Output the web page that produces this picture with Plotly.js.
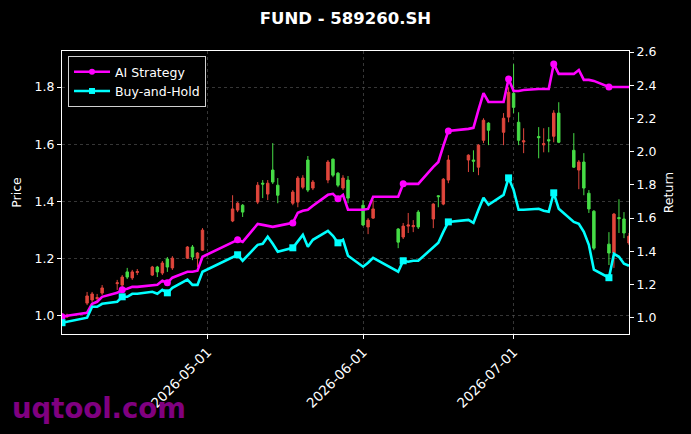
<!DOCTYPE html>
<html><head><meta charset="utf-8">
<script src="https://cdn.plot.ly/plotly-3.0.1.min.js"></script>
<style>html,body{margin:0;padding:0;background:#000;} #chart{width:691px;height:434px;}</style>
</head><body><div id="chart"></div>
<script>
const dates = [
 '2026-04-02','2026-04-03','2026-04-07','2026-04-08','2026-04-09','2026-04-10',
 '2026-04-13','2026-04-14','2026-04-15','2026-04-16','2026-04-17',
 '2026-04-20','2026-04-21','2026-04-22','2026-04-23','2026-04-24',
 '2026-04-27','2026-04-28','2026-04-29','2026-04-30',
 '2026-05-06','2026-05-07','2026-05-08',
 '2026-05-11','2026-05-12','2026-05-13','2026-05-14','2026-05-15',
 '2026-05-18','2026-05-19','2026-05-20','2026-05-21','2026-05-22',
 '2026-05-25','2026-05-26','2026-05-27','2026-05-28','2026-05-29',
 '2026-06-01','2026-06-02','2026-06-03',
 '2026-06-08','2026-06-09','2026-06-10','2026-06-11','2026-06-12',
 '2026-06-15','2026-06-16','2026-06-17','2026-06-18',
 '2026-06-22','2026-06-23','2026-06-24','2026-06-25','2026-06-26',
 '2026-06-29','2026-06-30','2026-07-01','2026-07-02','2026-07-03',
 '2026-07-06','2026-07-07','2026-07-08','2026-07-09','2026-07-10',
 '2026-07-13','2026-07-14','2026-07-15','2026-07-16','2026-07-17',
 '2026-07-20','2026-07-21','2026-07-22','2026-07-23','2026-07-24'
];
const openPrice = [0.993,0.997,1.045,1.056,1.061,1.080, 1.113,1.108,1.154,1.133,1.152, 1.143,1.171,1.150,1.199,1.168, 1.202,1.241,1.202,1.230, 1.332,1.370,1.387, 1.398,1.464,1.426,1.510,1.457, 1.394,1.398,1.450,1.545,1.447, 1.475,1.548,1.499,1.447,1.475, 1.387,1.311,1.342, 1.304,1.276,1.314,1.312,1.363, 1.339,1.420,1.391,1.475, 1.545,1.545,1.520,1.614,1.674, 1.642,1.695,1.778,1.677,1.608, 1.627,1.598,1.616,1.628,1.709, 1.579,1.510,1.538,1.429,1.366, 1.251,1.220,1.344,1.339,1.255];
const highPrice = [1.010,1.008,1.084,1.084,1.077,1.108, 1.126,1.143,1.168,1.161,1.164, 1.175,1.175,1.192,1.206,1.209, 1.244,1.248,1.223,1.307, 1.422,1.398,1.391, 1.468,1.475,1.475,1.604,1.482, 1.440,1.489,1.492,1.559,1.475, 1.545,1.550,1.503,1.492,1.489, 1.405,1.342,1.405, 1.307,1.325,1.360,1.335,1.370, 1.394,1.422,1.482,1.562, 1.565,1.579,1.600,1.691,1.677, 1.709,1.799,1.880,1.712,1.656, 1.660,1.656,1.660,1.719,1.747, 1.639,1.545,1.569,1.440,1.370, 1.293,1.360,1.408,1.363,1.290];
const lowPrice = [0.986,0.993,1.038,1.049,1.049,1.073, 1.091,1.091,1.129,1.126,1.143, 1.140,1.136,1.143,1.154,1.161, 1.199,1.195,1.171,1.227, 1.328,1.363,1.346, 1.391,1.412,1.405,1.461,1.394, 1.387,1.380,1.443,1.433,1.440, 1.464,1.485,1.450,1.440,1.394, 1.314,1.286,1.339, 1.237,1.269,1.290,1.293,1.304, 1.307,1.380,1.387,1.464, 1.503,1.503,1.492,1.604,1.597, 1.597,1.677,1.709,1.597,1.569, 1.551,1.572,1.572,1.607,1.604, 1.517,1.443,1.422,1.360,1.230, 1.178,1.168,1.290,1.272,1.248];
const closePrice = [1.000,1.002,1.070,1.077,1.064,1.098, 1.116,1.136,1.136,1.154,1.155, 1.171,1.154,1.185,1.171,1.202, 1.241,1.206,1.220,1.300, 1.374,1.394,1.363, 1.457,1.461,1.464,1.468,1.422, 1.433,1.482,1.482,1.440,1.468, 1.538,1.492,1.457,1.482,1.412, 1.318,1.335,1.374, 1.258,1.314,1.318,1.316,1.311, 1.391,1.417,1.478,1.545, 1.562,1.541,1.597,1.684,1.649, 1.691,1.782,1.729,1.614,1.612, 1.623,1.602,1.612,1.709,1.607, 1.520,1.538,1.447,1.374,1.237, 1.220,1.356,1.340,1.290,1.279];
const aiStrategy = [1.006,1.012,1.030,1.084,1.096,1.126, 1.150,1.168,1.174,1.186,1.186, 1.198,1.198,1.223,1.211,1.241, 1.277,1.277,1.283,1.367, 1.457,1.469,1.457, 1.565,1.559,1.553,1.547,1.553, 1.571,1.632,1.644,1.650,1.674, 1.740,1.746,1.716,1.740,1.650, 1.650,1.655,1.728, 1.728,1.806,1.806,1.806,1.806, 1.908,1.938,2.035,2.125, 2.137,2.143,2.251,2.353,2.299, 2.299,2.438,2.365,2.365,2.371, 2.377,2.377,2.377,2.528,2.468, 2.468,2.492,2.432,2.432,2.426, 2.389,2.389,2.389,2.389,2.389];
const buyHold = [0.970,0.976,1.000,1.066,1.066,1.084, 1.096,1.126,1.126,1.144,1.144, 1.156,1.144,1.168,1.150,1.180, 1.229,1.198,1.198,1.277, 1.361,1.379,1.343, 1.439,1.445,1.487,1.445,1.397, 1.421,1.463,1.499,1.427,1.469, 1.523,1.493,1.451,1.469,1.373, 1.307,1.331,1.361, 1.277,1.343,1.337,1.343,1.343, 1.421,1.451,1.517,1.577, 1.589,1.571,1.650,1.722,1.680, 1.740,1.842,1.770,1.650,1.650, 1.656,1.644,1.638,1.752,1.656, 1.577,1.565,1.517,1.439,1.289, 1.241,1.385,1.367,1.325,1.313];
const seriesNames = ['AI Strategy','Buy-and-Hold'];
const seriesColors = ['#ff00ff','#00ffff'];
const priceTicks = [1.0,1.2,1.4,1.6,1.8];
const returnTicks = [1.0,1.2,1.4,1.6,1.8,2.0,2.2,2.4,2.6];
const dateTicks = ['2026-05-01','2026-06-01','2026-07-01'];

const markEvery = 7;
const pick = arr => arr.filter((v,i) => i % markEvery === 0);
const mDates = pick(dates);

function seriesTraces(values, k, symbol) {
  return [
    {type:'scatter', mode:'lines', x:dates, y:values, yaxis:'y2', showlegend:false,
     legendgroup:seriesNames[k], line:{color:seriesColors[k], width:2.6}, hoverinfo:'skip'},
    {type:'scatter', mode:'markers', x:mDates, y:pick(values), yaxis:'y2', showlegend:false,
     legendgroup:seriesNames[k], marker:{size:7, color:seriesColors[k], symbol:symbol, line:{width:0}},
     hoverinfo:'skip', cliponaxis:true},
    {type:'scatter', mode:'lines+markers', x:[null], y:[null], yaxis:'y2', name:seriesNames[k],
     legendgroup:seriesNames[k], line:{color:seriesColors[k], width:2.6},
     marker:{size:6, color:seriesColors[k], symbol:symbol, line:{width:0}}}
  ];
}

const traces = [
  {type:'candlestick', x:dates, open:openPrice, high:highPrice, low:lowPrice, close:closePrice,
   increasing:{line:{color:'#e0463c', width:1}, fillcolor:'#e0463c'},
   decreasing:{line:{color:'#46dc46', width:1}, fillcolor:'#46dc46'},
   whiskerwidth:0, showlegend:false, hoverinfo:'skip'}
].concat(seriesTraces(aiStrategy, 0, 'circle'), seriesTraces(buyHold, 1, 'square'));

const gridStyle = {showgrid:true, gridcolor:'#5a5a5a', gridwidth:0.6, griddash:'3px,3px'};
const layout = {
  width:691, height:434,
  paper_bgcolor:'#000', plot_bgcolor:'#000',
  margin:{l:62, r:62, t:51, b:100, pad:0},
  font:{family:'DejaVu Sans, sans-serif', color:'#ffffff', size:12.5},
  title:{text:'<b>FUND - 589260.SH</b>', x:0.5, xanchor:'center', y:0.958, yanchor:'middle',
         font:{size:16.5, color:'#ffffff', family:'DejaVu Sans, sans-serif'}},
  showlegend:true,
  legend:{x:0.0106, y:0.982, xanchor:'left', yanchor:'top', bgcolor:'#000', bordercolor:'#d0d0d0',
          borderwidth:1, font:{size:12.5, color:'#ffffff'}, tracegroupgap:0, itemwidth:36,
          traceorder:'normal'},
  xaxis:Object.assign({type:'date', range:['2026-04-02','2026-07-24'], tickvals:dateTicks, ticktext:dateTicks,
         tickangle:-45, showline:true, linecolor:'#ffffff', linewidth:1, mirror:true,
         ticks:'outside', ticklen:4, tickcolor:'#ffffff', zeroline:false,
         rangeslider:{visible:false}, tickfont:{size:13.5, color:'#fff'}}, gridStyle),
  yaxis:Object.assign({range:[0.937,1.926], tickvals:priceTicks, tickformat:'.1f',
         showline:true, linecolor:'#ffffff', linewidth:1, ticks:'outside', ticklen:4, tickcolor:'#ffffff',
         zeroline:false, title:{text:'Price', font:{size:12.5, color:'#fff'}, standoff:10}}, gridStyle),
  yaxis2:{overlaying:'y', side:'right', range:[0.902,2.606], tickvals:returnTicks, tickformat:'.1f',
         showgrid:false, showline:true, linecolor:'#ffffff', linewidth:1, ticks:'outside', ticklen:4,
         tickcolor:'#ffffff', zeroline:false, title:{text:'Return', font:{size:12.5, color:'#fff'}, standoff:8}},
  annotations:[{text:'<b>uqtool.com</b>', xref:'paper', yref:'paper', x:-0.092, y:-0.262,
                xanchor:'left', yanchor:'middle', showarrow:false,
                font:{size:27.5, color:'#800080', family:'DejaVu Sans, sans-serif'}}]
};
Plotly.newPlot('chart', traces, layout, {displayModeBar:false, staticPlot:true});
</script></body></html>
